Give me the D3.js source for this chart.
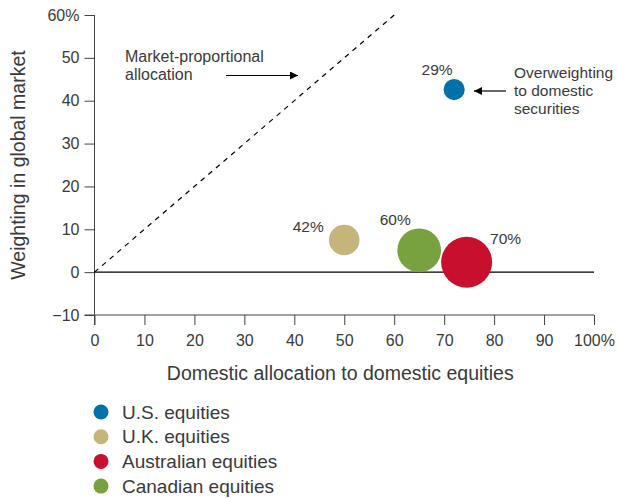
<!DOCTYPE html>
<html>
<head>
<meta charset="utf-8">
<script src="https://cdn.jsdelivr.net/npm/d3@7"></script>
<style>
  body { margin: 0; background: #fff; }
  text { font-family: "Liberation Sans", Arial, sans-serif; fill: #3a3a3a; }
</style>
</head>
<body>
<div id="chart"></div>
<script>
// Data
const markets = ["U.S. equities", "U.K. equities", "Australian equities", "Canadian equities"];
const domesticAllocation = [72, 50, 74.5, 65];   // x, %
const globalWeight = [42.6, 7.5, 2.3, 5.1];     // y, %
const homeBias = [29, 42, 70, 60];               // bubble size / label
const colors = ["#0072a9", "#c5b57a", "#c8102e", "#77a23f"];
const xTicks = [0, 10, 20, 30, 40, 50, 60, 70, 80, 90, 100];
const yTicks = [-10, 0, 10, 20, 30, 40, 50, 60];

const width = 618, height = 498;
const margin = { top: 15, right: 24, bottom: 183, left: 94.5 };
const fontFamily = "'Liberation Sans', Arial, sans-serif";

const svg = d3.select("#chart").append("svg")
    .attr("width", width)
    .attr("height", height);

const x = d3.scaleLinear().domain([0, 100]).range([margin.left, width - margin.right]);
const y = d3.scaleLinear().domain([-10, 60]).range([height - margin.bottom, margin.top]);
const r = d3.scaleLinear().domain([0, 70]).range([0, 25.5]);

// x axis at bottom (-10)
const xAxis = svg.append("g")
    .attr("transform", `translate(0,${y(-10)})`)
    .call(d3.axisBottom(x).tickValues(xTicks).tickSize(10).tickPadding(10)
        .tickFormat(d => d === 100 ? "100%" : d));
xAxis.select(".domain").attr("d", `M${x(0) - 10},0H${x(100)}`);

// y axis
const yAxis = svg.append("g")
    .attr("transform", `translate(${x(0)},0)`)
    .call(d3.axisLeft(y).tickValues(yTicks).tickSize(10).tickPadding(5)
        .tickFormat(d => d === 60 ? "60%" : (d < 0 ? "\u2212" + Math.abs(d) : d)));
yAxis.select(".domain").attr("d", `M0,${y(60)}V${y(-10) + 10}`);

svg.selectAll(".tick text").attr("font-size", 16).attr("fill", "#3a3a3a")
    .style("font-family", fontFamily);
svg.selectAll(".domain, .tick line").attr("stroke", "#444");

// zero line
svg.append("line")
    .attr("x1", x(0)).attr("x2", x(100))
    .attr("y1", y(0)).attr("y2", y(0))
    .attr("stroke", "#000").attr("stroke-width", 1.2);

// market-proportional dashed line
svg.append("line")
    .attr("x1", x(0)).attr("y1", y(0))
    .attr("x2", x(60)).attr("y2", y(60))
    .attr("stroke", "#000").attr("stroke-width", 1.2)
    .attr("stroke-dasharray", "5,5");

// arrow marker
svg.append("defs").append("marker")
    .attr("id", "arrow")
    .attr("viewBox", "0 0 10 10")
    .attr("refX", 10).attr("refY", 5)
    .attr("markerWidth", 10).attr("markerHeight", 8)
    .attr("markerUnits", "userSpaceOnUse")
    .attr("orient", "auto")
    .append("path").attr("d", "M0,0L10,5L0,10Z").attr("fill", "#000");

// bubbles
const pts = markets.map((m, i) => ({
    name: m, x: domesticAllocation[i], y: globalWeight[i], v: homeBias[i], color: colors[i]
}));

svg.selectAll(".bubble")
    .data(pts)
    .enter().append("circle")
    .attr("class", "bubble")
    .attr("cx", d => x(d.x))
    .attr("cy", d => y(d.y))
    .attr("r", d => r(d.v))
    .attr("fill", d => d.color);

// bubble labels
const labelOffsets = { 29: [-17, -15], 42: [-36, -8], 60: [-24, -25], 70: [39, -18] };
svg.selectAll(".blabel")
    .data(pts)
    .enter().append("text")
    .attr("class", "blabel")
    .attr("x", d => x(d.x) + labelOffsets[d.v][0])
    .attr("y", d => y(d.y) + labelOffsets[d.v][1])
    .attr("text-anchor", "middle")
    .attr("font-size", 15.5)
    .text(d => d.v + "%");

// annotations
const ann1 = svg.append("text").attr("x", 125).attr("y", 62).attr("font-size", 16);
ann1.append("tspan").attr("x", 125).text("Market-proportional");
ann1.append("tspan").attr("x", 125).attr("dy", 18).text("allocation");
svg.append("line")
    .attr("x1", 226).attr("x2", 298).attr("y1", 75.5).attr("y2", 75.5)
    .attr("stroke", "#000").attr("stroke-width", 1.2)
    .attr("marker-end", "url(#arrow)");

const ann2 = svg.append("text").attr("x", 514).attr("y", 78).attr("font-size", 15.5);
ann2.append("tspan").attr("x", 514).text("Overweighting");
ann2.append("tspan").attr("x", 514).attr("dy", 18).text("to domestic");
ann2.append("tspan").attr("x", 514).attr("dy", 18).text("securities");
svg.append("line")
    .attr("x1", 506).attr("x2", 474).attr("y1", 91).attr("y2", 91)
    .attr("stroke", "#000").attr("stroke-width", 1.2)
    .attr("marker-end", "url(#arrow)");

// axis titles
svg.append("text")
    .attr("transform", `translate(25,${(y(60) + y(-10)) / 2}) rotate(-90)`)
    .attr("text-anchor", "middle")
    .attr("font-size", 19.5)
    .text("Weighting in global market");

svg.append("text")
    .attr("x", (x(0) + x(100)) / 2 - 4)
    .attr("y", 380)
    .attr("text-anchor", "middle")
    .attr("font-size", 19.5)
    .text("Domestic allocation to domestic equities");

// legend
const legend = svg.selectAll(".legend")
    .data(pts)
    .enter().append("g")
    .attr("class", "legend")
    .attr("transform", (d, i) => `translate(101,${412 + i * 24.7})`);
legend.append("circle").attr("r", 7.5).attr("fill", d => d.color);
legend.append("text")
    .attr("x", 21).attr("dy", "0.35em")
    .attr("font-size", 19)
    .text(d => d.name);
</script>
</body>
</html>
